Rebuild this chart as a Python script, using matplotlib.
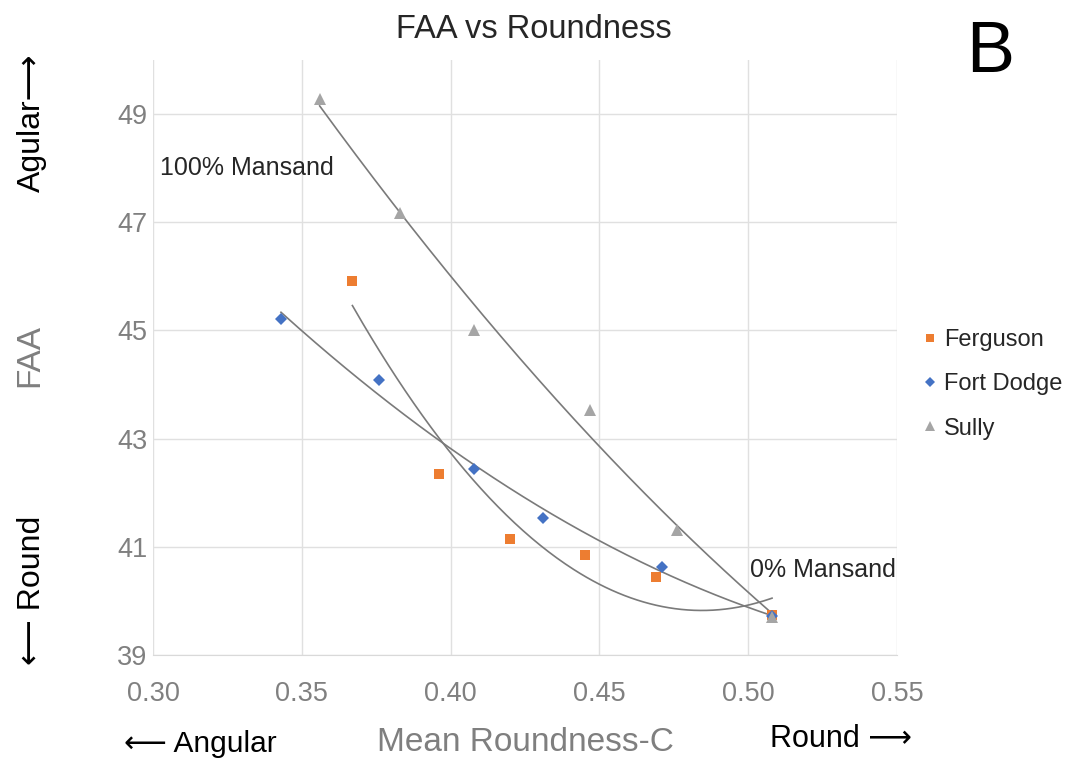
import numpy as np
import matplotlib
matplotlib.use("Agg")
import matplotlib.pyplot as plt

plt.rcParams['font.family'] = ['Liberation Sans', 'DejaVu Sans']

# Data
ferguson_x = [0.367, 0.396, 0.420, 0.445, 0.469, 0.508]
ferguson_y = [45.92, 42.34, 41.14, 40.84, 40.45, 39.74]
fortdodge_x = [0.343, 0.376, 0.408, 0.431, 0.471, 0.508]
fortdodge_y = [45.22, 44.08, 42.43, 41.54, 40.63, 39.72]
sully_x = [0.356, 0.383, 0.408, 0.447, 0.476, 0.508]
sully_y = [49.28, 47.17, 45.01, 43.53, 41.31, 39.70]

series = [
    ("Ferguson", ferguson_x, ferguson_y, "#ED7D31", "s", 7.5),
    ("Fort Dodge", fortdodge_x, fortdodge_y, "#4472C4", "D", 6.5),
    ("Sully", sully_x, sully_y, "#A5A5A5", "^", 8.5),
]

x_ticks = [0.30, 0.35, 0.40, 0.45, 0.50, 0.55]
x_tick_labels = ["0.30", "0.35", "0.40", "0.45", "0.50", "0.55"]
y_ticks = [39, 41, 43, 45, 47, 49]

fig = plt.figure(figsize=(10.67, 7.67), dpi=100)
ax = fig.add_axes([0.1434, 0.146, 0.6973, 0.7758])

# trendlines (2nd order polynomial, as in Excel)
for name, xs, ys, c, m, s in series:
    coef = np.polyfit(xs, ys, 2)
    xx = np.linspace(min(xs), max(xs), 200)
    ax.plot(xx, np.polyval(coef, xx), color="#7a7a7a", lw=1.2, zorder=2)

for name, xs, ys, c, m, s in series:
    ax.plot(xs, ys, linestyle="none", marker=m, color=c, markersize=s,
            markeredgewidth=0, label=name, zorder=3)

ax.set_xlim(0.30, 0.55)
ax.set_ylim(39, 50)
ax.set_xticks(x_ticks)
ax.set_xticklabels(x_tick_labels)
ax.set_yticks(y_ticks)
ax.grid(True, color="#e0e0e0", lw=1)
ax.set_axisbelow(True)
for sp in ["top", "right", "left"]:
    ax.spines[sp].set_visible(False)
ax.spines["bottom"].set_color("#d9d9d9")
ax.tick_params(axis="both", length=0, labelsize=19.5, colors="#808080")
ax.tick_params(axis="x", pad=19)
ax.tick_params(axis="y", pad=4)

ax.set_xlabel("Mean Roundness-C", fontsize=24, color="#7f7f7f", labelpad=14)
fig.text(0.028, 0.537, "FAA", ha="center", va="center", fontsize=24,
         color="#7f7f7f", rotation=90)

fig.text(0.5, 0.962, "FAA vs Roundness", ha="center", va="center",
         fontsize=23.5, color="#262626")
fig.text(0.928, 0.93, "B", ha="center", va="center", fontsize=52, color="black")

ax.text(0.3025, 48.0, "100% Mansand", fontsize=18, color="#262626",
        ha="left", va="center")
ax.text(0.5005, 40.57, "0% Mansand", fontsize=18, color="#262626",
        ha="left", va="center")

fig.text(0.188, 0.03, "⟵ Angular", ha="center", va="center", fontsize=21.5, color="black")
fig.text(0.788, 0.037, "Round ⟶", ha="center", va="center", fontsize=22, color="black")
fig.text(0.03, 0.84, "Agular⟶", ha="center", va="center", fontsize=23,
         color="black", rotation=90)
fig.text(0.03, 0.23, "⟵ Round", ha="center", va="center", fontsize=23,
         color="black", rotation=90)

leg = ax.legend(loc="center left", bbox_to_anchor=(1.0, 0.455), frameon=False,
                fontsize=17, handletextpad=0.1, labelspacing=0.95,
                handlelength=1.0, markerscale=0.85)
for t in leg.get_texts():
    t.set_color("#262626")

fig.savefig("out.png", dpi=100)
